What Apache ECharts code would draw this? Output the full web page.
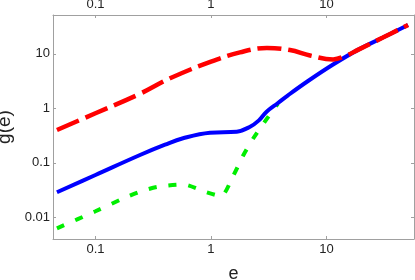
<!DOCTYPE html>
<html><head><meta charset="utf-8">
<script src="https://cdn.jsdelivr.net/npm/echarts@6/dist/echarts.min.js"></script>
<style>html,body{margin:0;padding:0;background:#fff}#c{width:415px;height:280px}</style>
</head><body><div id="c"></div>
<script>
// tick labels
var xTickLabels = ['0.1', '1', '10'];
var yTickLabels = ['0.01', '0.1', '1', '10'];
// blue solid curve
var blueE = [0.0464, 0.1, 0.243, 0.40, 0.573, 0.98, 1.67, 2.18, 2.6, 3.03, 3.80, 4.67, 6.92, 11.4, 18.7, 30.8, 50.8];
var blueG = [0.0288, 0.0597, 0.139, 0.215, 0.282, 0.357, 0.372, 0.459, 0.60, 0.867, 1.25, 1.75, 3.17, 6.36, 11.8, 19.9, 33.8];
// red dashed curve
var redE = [0.0464, 0.1, 0.243, 0.442, 1.0, 1.78, 3.05, 4.83, 7.2, 11.4, 14.5, 18.7, 30.8, 50.8];
var redG = [0.40, 0.81, 1.85, 3.55, 7.2, 10.6, 12.8, 11.7, 9.3, 7.9, 9.1, 11.8, 19.9, 33.8];
// green dotted curve
var greenE = [0.0464, 0.1, 0.17, 0.243, 0.348, 0.573, 0.887, 1.22, 1.56, 1.90, 2.35, 3.03, 3.8];
var greenG = [0.00628, 0.0129, 0.0217, 0.0295, 0.0364, 0.040, 0.0295, 0.0246, 0.0582, 0.136, 0.291, 0.631, 1.22];

function zip(a, b) { return a.map(function (v, i) { return [v, b[i]]; }); }
function fmt(list) {
  return function (v) {
    for (var i = 0; i < list.length; i++) {
      if (Math.abs(Math.log10(v) - Math.log10(parseFloat(list[i]))) < 1e-6) return list[i];
    }
    return '';
  };
}
var axisCol = '#a0a0a0';
var font = 'Liberation Sans, Arial, sans-serif';
var chart = echarts.init(document.getElementById('c'), null, {renderer: 'canvas'});
var xMin = 0.0429, xMax = 57.2, yMin = 0.0040, yMax = 51.5;
function xAx(pos, name) {
  return {
    type: 'log', logBase: 10, position: pos, min: xMin, max: xMax,
    name: name, nameLocation: 'middle', nameGap: 26,
    nameTextStyle: {fontFamily: font, fontSize: 18, color: '#222'},
    axisLine: {show: true, onZero: false, lineStyle: {color: axisCol, width: 1}},
    axisTick: {show: true, inside: true, length: 3, lineStyle: {color: axisCol}},
    minorTick: {show: false}, splitLine: {show: false},
    axisLabel: {show: true, margin: 4, fontFamily: font, fontSize: 13, color: '#222',
      showMinLabel: false, showMaxLabel: false, formatter: fmt(xTickLabels)}
  };
}
function yAx(pos, name, labels) {
  return {
    type: 'log', logBase: 10, position: pos, min: yMin, max: yMax,
    name: name, nameLocation: 'middle', nameGap: 22, nameRotate: 90,
    nameTextStyle: {fontFamily: font, fontSize: 19, color: '#222'},
    axisLine: {show: true, onZero: false, lineStyle: {color: axisCol, width: 1}},
    axisTick: {show: true, inside: true, length: 3, lineStyle: {color: axisCol}},
    minorTick: {show: false}, splitLine: {show: false},
    axisLabel: {show: labels, margin: 3, fontFamily: font, fontSize: 13, color: '#222',
      showMinLabel: false, showMaxLabel: false, formatter: fmt(yTickLabels)}
  };
}
chart.setOption({
  animation: false,
  grid: {left: 53, right: 1, top: 15, bottom: 41, containLabel: false, outerBoundsMode: 'none'},
  xAxis: [xAx('bottom', 'e'), xAx('top', '')],
  yAxis: [yAx('left', 'g(e)', true), yAx('right', '', false)],
  series: [
    {type: 'line', data: zip(greenE, greenG), smooth: 0.25, showSymbol: false, symbol: 'none',
      lineStyle: {color: '#00ee00', width: 4, type: [8, 12], cap: 'butt'}},
    {type: 'line', data: zip(blueE, blueG), smooth: 0.4, showSymbol: false, symbol: 'none',
      lineStyle: {color: '#0000ff', width: 4}},
    {type: 'line', data: zip(redE, redG), smooth: 0.4, showSymbol: false, symbol: 'none',
      lineStyle: {color: '#ff0000', width: 4.5, type: [24, 7], cap: 'butt'}}
  ]
});
</script></body></html>
